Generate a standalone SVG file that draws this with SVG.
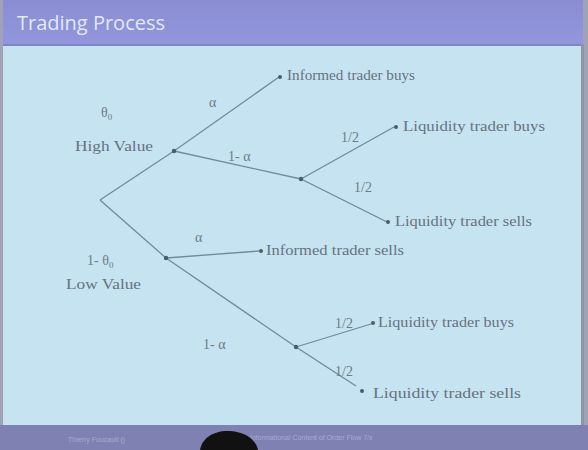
<svg xmlns="http://www.w3.org/2000/svg" width="588" height="450" viewBox="0 0 588 450">
<style>
.t{font-family:"Liberation Serif","DejaVu Serif",serif;font-size:15px;fill:#66727e}
.lbl{font-family:"Liberation Serif","DejaVu Serif",serif;font-size:14px;fill:#6f7b87}
.e{stroke:#6f8c9c;stroke-width:1.3;fill:none}
.d{fill:#4a5e6a}
</style>
<defs>
<linearGradient id="hdr" x1="0" y1="0" x2="0" y2="1"><stop offset="0" stop-color="#8a8dd2"/><stop offset="1" stop-color="#9296dc"/></linearGradient>
</defs>
<rect x="0" y="0" width="588" height="450" fill="#9fa3b5"/>
<rect x="3" y="0" width="580" height="44" fill="url(#hdr)"/>
<rect x="3" y="44" width="580" height="383" fill="#c6e3f2"/>
<rect x="3" y="44" width="580" height="2" fill="#7f84c6"/>
<rect x="581" y="44" width="3" height="383" fill="#8c96a4"/>
<rect x="0" y="425" width="588" height="25" fill="#7f81b3"/>
<text x="17" y="30" font-family="'Open Sans','DejaVu Sans',sans-serif" font-size="20" fill="#e2e8f8">Trading Process</text>
<g id="connectors">
<path class="e" d="M100,200 L174,151"/>
<path class="e" d="M100,200 L166,258"/>
<path class="e" d="M174,151 L279,77"/>
<path class="e" d="M174,151 L301,179"/>
<path class="e" d="M301,179 L394,127"/>
<path class="e" d="M301,179 L387,222"/>
<path class="e" d="M166,258 L259,251"/>
<path class="e" d="M166,258 L296,347"/>
<path class="e" d="M296,347 L371,324"/>
<path class="e" d="M296,347 L356,386"/>
</g>
<g id="labels">
<text class="lbl" x="101" y="117">θ<tspan font-size="9" dy="3">0</tspan></text>
<text class="t" x="75" y="151" textLength="78" lengthAdjust="spacingAndGlyphs">High Value</text>
<text class="lbl" x="209" y="107">α</text>
<text class="lbl" x="228" y="161">1- α</text>
<text class="lbl" x="341" y="142">1/2</text>
<text class="lbl" x="354" y="192">1/2</text>
<text class="lbl" x="87" y="265">1- θ<tspan font-size="9" dy="3">0</tspan></text>
<text class="t" x="66" y="289" textLength="75" lengthAdjust="spacingAndGlyphs">Low Value</text>
<text class="lbl" x="195" y="242">α</text>
<text class="lbl" x="203" y="349">1- α</text>
<text class="lbl" x="335" y="328">1/2</text>
<text class="lbl" x="335" y="376">1/2</text>
</g>
<g id="root"><circle class="d" cx="100" cy="200" r="0.1"/></g>
<g id="n-high"><circle class="d" cx="174" cy="151" r="2.2"/></g>
<g id="n-high-liq"><circle class="d" cx="301" cy="179" r="2.2"/></g>
<g id="n-low"><circle class="d" cx="166" cy="258" r="2.2"/></g>
<g id="n-low-liq"><circle class="d" cx="296" cy="347" r="2.2"/></g>
<g id="leaf1"><circle class="d" cx="280" cy="77" r="2"/><text class="t" x="287" y="80" textLength="128" lengthAdjust="spacingAndGlyphs">Informed trader buys</text></g>
<g id="leaf2"><circle class="d" cx="396" cy="127" r="2"/><text class="t" x="403" y="131" textLength="142" lengthAdjust="spacingAndGlyphs">Liquidity trader buys</text></g>
<g id="leaf3"><circle class="d" cx="388" cy="222" r="2"/><text class="t" x="395" y="226" textLength="137" lengthAdjust="spacingAndGlyphs">Liquidity trader sells</text></g>
<g id="leaf4"><circle class="d" cx="261" cy="251" r="2"/><text class="t" x="266" y="255" textLength="138" lengthAdjust="spacingAndGlyphs">Informed trader sells</text></g>
<g id="leaf5"><circle class="d" cx="373" cy="323" r="2"/><text class="t" x="378" y="327" textLength="136" lengthAdjust="spacingAndGlyphs">Liquidity trader buys</text></g>
<g id="leaf6"><circle class="d" cx="362" cy="391" r="2"/><text class="t" x="373" y="398" textLength="148" lengthAdjust="spacingAndGlyphs">Liquidity trader sells</text></g>
<text x="68" y="442" font-family="'Liberation Sans',sans-serif" font-size="7" fill="#a9abcf">Thierry Foucault ()</text>
<text x="250" y="440" font-family="'Liberation Sans',sans-serif" font-size="7" fill="#a9abcf">Informational Content of Order Flow 7/x</text>
<path d="M200,450 C202,438 214,430 230,431 C246,432 256,440 258,450 Z" fill="#111"/>
</svg>
